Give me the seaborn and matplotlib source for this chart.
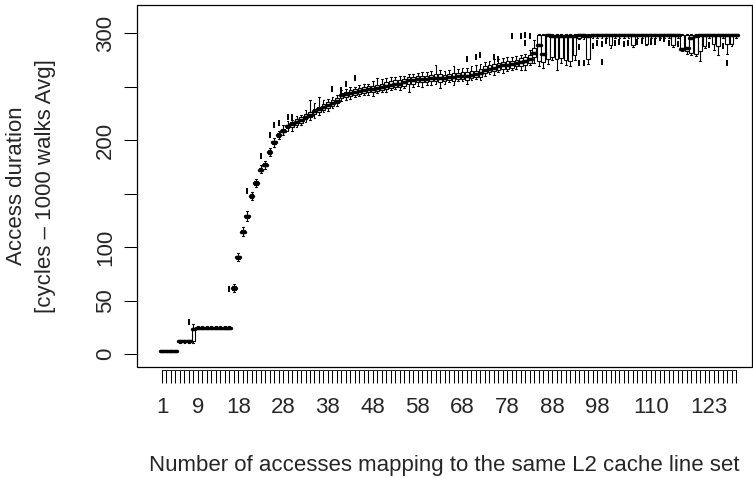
import matplotlib
matplotlib.use("Agg")
import matplotlib.pyplot as plt
from matplotlib.patches import Rectangle
import pandas as pd
import seaborn as sns

# Number of accesses mapping to the same L2 cache line set (one box per count)
accesses = list(range(1, 130))

# Box statistics per access count (cycles)
median = [
    3, 3, 3, 3, 12, 12, 12, 24, 25, 25, 25, 25, 25, 25, 25, 25,
    62, 90.5, 114.5, 129, 148, 160, 172.5, 177, 189, 198, 205, 209, 213, 215,
    217, 219, 222, 224, 227, 229, 231, 233, 235, 237, 242, 243, 244, 245, 246,
    247, 248, 248, 249, 250, 251, 252, 253, 253, 254, 256, 256, 257, 257, 257,
    258, 258, 258, 258, 259, 259, 260, 260, 260, 261, 262, 263, 266, 267, 268,
    269, 270, 270, 271, 272, 273, 274, 276, 282, 289, 281, 298, 297, 297, 297,
    297, 297, 297, 298, 298, 297,
    298, 298, 298, 298, 298, 298, 298, 298, 298, 298,
    298, 298, 298, 298, 298, 298, 298, 298, 298, 298,
    285, 286, 296, 297,
    298, 298, 298, 298, 298, 298, 298, 298, 298,
]
lower_quartile = [
    2.5, 2.5, 2.5, 2.5, 11.5, 11.5, 11.5, 12, 24.5, 24.5, 24.5, 24.5, 24.5, 24.5, 24.5, 24.5,
    60.5, 89, 113, 127.5, 146.5, 158.5, 171, 175.5, 187.5, 196.5, 203.5, 207.5, 211.5, 212.5,
    214.5, 216.5, 219.5, 221.5, 224.5, 226.5, 228.5, 230.5, 232.5, 234.5, 239.5, 240.5, 241, 242, 243,
    244, 245, 245, 246, 247, 248, 249, 250, 250, 251, 253, 253, 254, 254, 254.5,
    255, 255, 254.5, 255, 256, 255.5, 257, 257, 256.5, 258, 259, 259.5, 263, 264, 264.5,
    266, 266.5, 267, 268, 269, 269.5, 270, 272, 278, 274, 273, 276, 278, 276, 277,
    275, 274, 280, 296, 296.5, 276,
    297.5, 297.5, 297.5, 297.5, 289, 297.5, 297.5, 297.5, 297.5, 289,
    297.5, 297.5, 290, 297.5, 297.5, 297.5, 297.5, 297.5, 289, 297.5,
    284, 283, 282, 281,
    283, 288, 297.5, 290, 288, 297.5, 290, 290, 297.5,
]
upper_quartile = [
    3.5, 3.5, 3.5, 3.5, 12.5, 12.5, 12.5, 25, 25.5, 25.5, 25.5, 25.5, 25.5, 25.5, 25.5, 25.5,
    63.5, 92, 116, 130.5, 149.5, 161.5, 174, 178.5, 190.5, 199.5, 206.5, 210.5, 214.5, 217.5,
    219.5, 221.5, 224.5, 226.5, 229.5, 231.5, 233.5, 235.5, 237.5, 239.5, 244.5, 245.5, 247, 248, 249,
    250, 251, 251, 252, 253, 254, 255, 256, 256, 257, 259, 259, 260, 260, 260,
    261, 261.5, 262, 261, 262, 262.5, 263, 263.5, 264, 264.5, 265, 266.5, 269.5, 270, 271.5,
    272, 273.5, 274, 274.5, 275, 276.5, 278, 280, 286, 298.5, 298.5, 298.5, 298.5, 298.5, 298.5,
    298.5, 298.5, 298.5, 298.5, 298.5, 298.5,
    298.5, 298.5, 298.5, 298.5, 298.5, 298.5, 298.5, 298.5, 298.5, 298.5,
    298.5, 298.5, 298.5, 298.5, 298.5, 298.5, 298.5, 298.5, 298.5, 298.5,
    298.5, 298.5, 298.5, 298.5,
    298.5, 298.5, 298.5, 298.5, 298.5, 298.5, 298.5, 298.5, 298.5,
]
whisker_low = [
    2, 2, 2, 2, 11, 11, 11, 11, 24, 24, 24, 24, 24, 24, 24, 24,
    58, 87, 111, 125, 144, 156, 169, 173, 185, 194, 201, 205, 209, 209,
    212, 214, 217, 219, 221, 224, 226, 227, 230, 232, 237, 238, 239, 240, 241,
    242, 242, 241, 244, 245, 245, 247, 248, 247, 249, 245, 250, 251, 250, 252,
    252, 253, 249, 253, 254, 252, 255, 255, 253, 256, 257, 256, 260, 262, 261,
    264, 263, 265, 266, 267, 266, 266, 270, 272, 269, 268, 271, 275, 266, 272,
    270, 269, 275, 295, 295, 271,
    296, 296, 296, 296, 286, 296, 296, 296, 296, 287,
    296, 296, 289, 296, 296, 296, 296, 296, 287, 296,
    283, 281, 280, 279,
    274, 286, 296, 284, 280, 296, 281, 288, 296,
]
whisker_high = [
    4, 4, 4, 4, 13, 13, 13, 28, 26, 26, 26, 26, 26, 26, 26, 26,
    66, 95, 119, 134, 152, 164, 177, 181, 193, 202, 209, 214, 218, 219,
    223, 224, 228, 238, 235, 240, 238, 239, 240, 242, 247, 248, 250, 250, 252,
    253, 253, 255, 258, 257, 258, 259, 259, 260, 260, 262, 262, 263, 264, 264,
    265, 270, 266, 265, 266, 269, 267, 268, 268, 269, 270, 271, 273, 274, 276,
    276, 277, 278, 278, 279, 280, 281, 284, 294, 299, 299, 299, 299, 299, 299,
    299, 299, 299, 299, 299, 299,
    299, 299, 299, 299, 299, 299, 299, 299, 299, 299,
    299, 299, 299, 299, 299, 299, 299, 299, 299, 299,
    299, 299, 299, 299,
    299, 299, 299, 299, 299, 299, 299, 299, 299,
]

# Single walks falling outside the whiskers
outlier_access = [7, 16, 20, 23, 25, 26, 27, 29, 30, 39, 41, 42, 44, 69, 71, 72, 75, 76,
                  79, 81, 82, 82, 83, 94, 94, 95, 97, 98, 99, 99, 100, 102, 103, 104, 105,
                  107, 108, 110, 111, 112, 113, 114, 116, 123, 126, 127]
outlier_value = [30, 61, 153, 185, 205, 214, 216, 222, 222, 248, 247, 253, 258, 276, 278, 280, 278, 276,
                 297, 297, 298, 291, 297, 287, 272, 272, 288, 291, 273, 290, 293, 291, 292, 290, 291,
                 292, 293, 292, 292, 296, 295, 291, 290, 289, 288, 272]

labelled_accesses = [1, 9, 18, 28, 38, 48, 58, 68, 78, 88, 98, 110, 123]
y_ticks = [0, 50, 100, 150, 200, 250, 300]
y_tick_labels = ["0", "50", "100", "", "200", "", "300"]

# Five values per box: whisker ends, quartiles and median
rows = []
for a, lo, q1, md, q3, hi in zip(accesses, whisker_low, lower_quartile, median,
                                 upper_quartile, whisker_high):
    for v in (lo, q1, md, q3, hi):
        rows.append((str(a), v))
df = pd.DataFrame(rows, columns=["accesses", "duration"])
order = [str(a) for a in accesses]

sns.set_style("ticks")
plt.rcParams["font.family"] = ["Liberation Sans", "DejaVu Sans"]
FS = 16
plt.rcParams["xtick.labelsize"] = FS
plt.rcParams["ytick.labelsize"] = FS

W, H = 753, 478
fig = plt.figure(figsize=(W / 100, H / 100), dpi=100)
left, right, top, bottom = 137.3, 752.0, 4.7, 367.3
ax = fig.add_axes([left / W, 1 - bottom / H, (right - left) / W, (bottom - top) / H])

sns.boxplot(
    data=df, x="accesses", y="duration", order=order, whis=(0, 100), width=0.8,
    color="white", linecolor="black", linewidth=0.8, showfliers=False,
    medianprops=dict(color="black", linewidth=2.5, solid_capstyle="round"),
    ax=ax,
)

pos = {a: i for i, a in enumerate(order)}
ax.plot([pos[str(a)] for a in outlier_access], outlier_value, ls="none",
        marker="|", ms=4, mew=1.4, color="black", zorder=4)

# Axis frame and offset bottom axis line
for side in ("top", "right", "left"):
    ax.spines[side].set_visible(False)
ax.spines["bottom"].set_position(("outward", 2))
ax.spines["bottom"].set_bounds(0, len(order) - 1)
ax.spines["bottom"].set_linewidth(0.75)
ax.add_patch(Rectangle((0, 0), 1, 1, transform=ax.transAxes, fill=False,
                       lw=0.9, ec="black", clip_on=False, zorder=6))

px_per_box = 4.485
ax.set_xlim((left - 162.0) / px_per_box, (right - 162.0) / px_per_box)
ax.set_ylim(-12.15, 326.7)

ax.set_xticks(range(len(order)))
ax.set_xticklabels([a if int(a) in labelled_accesses else "" for a in order])
ax.set_yticks(y_ticks)
ax.set_yticklabels(y_tick_labels, rotation=90, va="center")

ax.tick_params(axis="x", length=9.3, width=0.75, pad=10, color="black", labelsize=FS)
ax.tick_params(axis="y", length=9.3, width=0.75, pad=6.2, color="black", labelsize=FS)

ax.set_xlabel("Number of accesses mapping to the same L2 cache line set", fontsize=FS, va="center")
ax.xaxis.set_label_coords(0.5, (bottom - 465) / (bottom - top))
ax.set_ylabel("")
ax.text((17 - left) / (right - left), 0.5, "Access duration", rotation=90,
        ha="center", va="center", fontsize=FS, transform=ax.transAxes)
ax.text((45 - left) / (right - left), 0.5, "[cycles – 1000 walks Avg]", rotation=90,
        ha="center", va="center", fontsize=FS, transform=ax.transAxes)

fig.savefig("out.png", dpi=100)
